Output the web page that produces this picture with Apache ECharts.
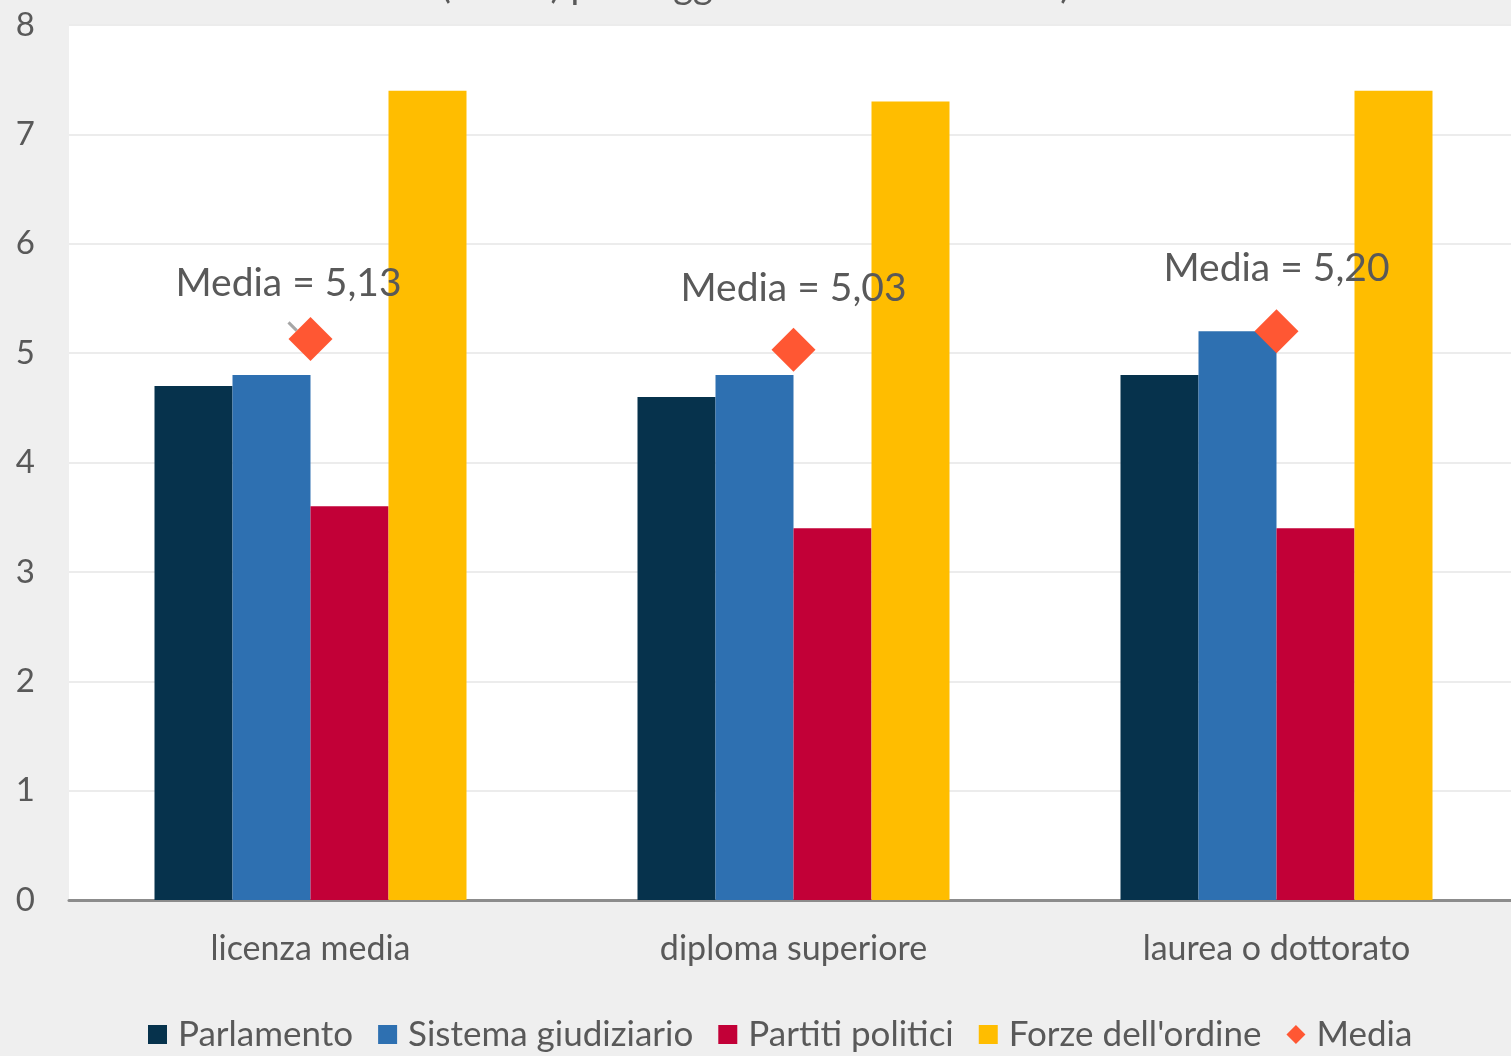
<!DOCTYPE html>
<html>
<head>
<meta charset="utf-8">
<script src="https://cdn.jsdelivr.net/npm/echarts@6/dist/echarts.min.js"></script>
<style>
html,body{margin:0;padding:0;background:#efefef;}
#chart{width:1511px;height:1056px;}
</style>
</head>
<body>
<div id="chart"></div>
<script>
const categories = ['licenza media', 'diploma superiore', 'laurea o dottorato'];
const parlamento = [4.7, 4.6, 4.8];
const sistemaGiudiziario = [4.8, 4.8, 5.2];
const partitiPolitici = [3.6, 3.4, 3.4];
const forzeOrdine = [7.4, 7.3, 7.4];
const media = [5.13, 5.03, 5.20];
const mediaLabels = ['Media = 5,13', 'Media = 5,03', 'Media = 5,20'];
const yTicks = [0, 1, 2, 3, 4, 5, 6, 7, 8];

const FONT = 'Lato';
const TXT = '#595959';

const chart = echarts.init(document.getElementById('chart'));
function barSeries(name, data, color) {
  return {
    name: name, type: 'bar', data: data, barWidth: 78, barGap: '0%',
    itemStyle: { color: color }
  };
}
const labelOffsets = [[-22, -14], [0, -20], [0, -21]];
chart.setOption({
  backgroundColor: '#efefef',
  animation: false,
  textStyle: { fontFamily: FONT },
  title: {
    text: '(media) per soggetto e titolo di studio)',
    left: 'center', top: -38,
    textStyle: { fontFamily: FONT, fontSize: 38, fontWeight: 'normal', color: TXT }
  },
  grid: {
    left: 69, top: 25, width: 1449, height: 875,
    outerBoundsMode: 'none',
    show: true, backgroundColor: '#ffffff', borderWidth: 0
  },
  legend: {
    left: 143, top: 1012, itemWidth: 19, itemHeight: 19, itemGap: 25,
    textStyle: { fontFamily: FONT, fontSize: 35, color: TXT, padding: [0, 0, 0, 6] },
    data: [
      { name: 'Parlamento', icon: 'rect' },
      { name: 'Sistema giudiziario', icon: 'rect' },
      { name: 'Partiti politici', icon: 'rect' },
      { name: "Forze dell'ordine", icon: 'rect' },
      { name: 'Media', icon: 'diamond' }
    ]
  },
  xAxis: {
    type: 'category', data: categories,
    axisLine: { lineStyle: { color: '#8c8c8c', width: 3 } },
    axisTick: { show: false },
    axisLabel: { fontFamily: FONT, fontSize: 34, color: TXT, margin: 32 }
  },
  yAxis: {
    type: 'value', min: yTicks[0], max: yTicks[yTicks.length - 1], interval: 1,
    axisLine: { show: false }, axisTick: { show: false },
    splitLine: { lineStyle: { color: '#ececec', width: 2 } },
    axisLabel: { fontFamily: FONT, fontSize: 33, color: TXT, margin: 34 }
  },
  series: [
    barSeries('Parlamento', parlamento, '#06324c'),
    barSeries('Sistema giudiziario', sistemaGiudiziario, '#2e70b1'),
    barSeries('Partiti politici', partitiPolitici, '#c20037'),
    barSeries("Forze dell'ordine", forzeOrdine, '#ffbd00'),
    {
      name: 'Media', type: 'scatter', symbol: 'diamond', symbolSize: 44,
      itemStyle: { color: '#ff5733', opacity: 1 },
      z: 5,
      data: media.map((v, i) => ({
        value: v,
        labelLine: { show: i === 0, lineStyle: { color: '#a6a6a6', width: 3 } },
        label: {
          show: true, position: 'top', distance: 0,
          offset: labelOffsets[i],
          formatter: mediaLabels[i],
          fontFamily: FONT, fontSize: 39, color: TXT
        }
      }))
    }
  ]
});
</script>
</body>
</html>
